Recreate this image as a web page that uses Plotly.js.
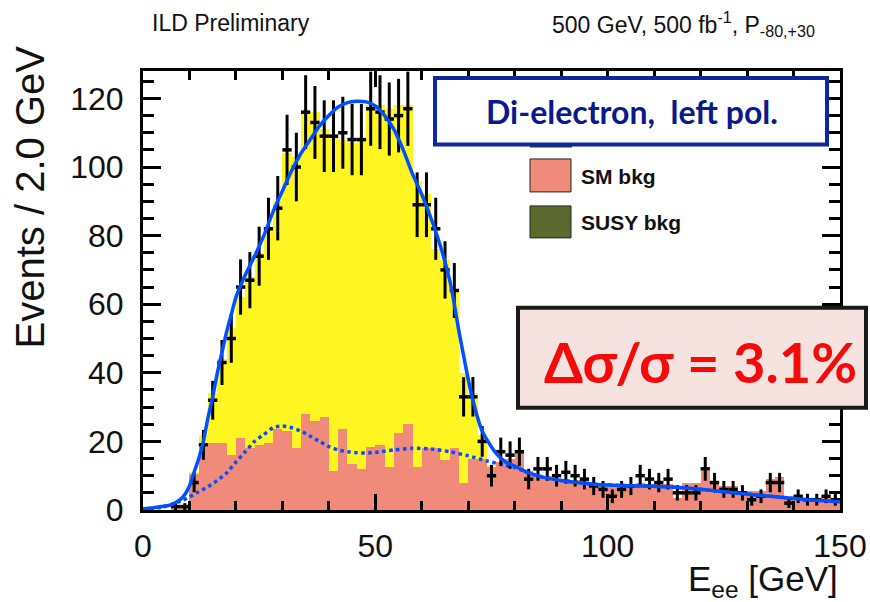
<!DOCTYPE html>
<html>
<head>
<meta charset="utf-8">
<script src="https://cdn.plot.ly/plotly-3.0.1.min.js"></script>
<style>html,body{margin:0;padding:0;background:#fff;}#chart{width:870px;height:602px;}</style>
</head>
<body>
<div id="chart"></div>
<script>
// ---- bin centres (2 GeV bins, 0-150 GeV)
const binCenters = [1,3,5,7,9,11,13,15,17,19,21,23,25,27,29,31,33,35,37,39,41,43,45,47,49,51,53,55,57,59,61,63,65,67,69,71,73,75,77,79,81,83,85,87,89,91,93,95,97,99,101,103,105,107,109,111,113,115,117,119,121,123,125,127,129,131,133,135,137,139,141,143,145,147,149];

// ---- SM background (salmon) per bin
const smBkg = [0,0,0,0.5,1,10.5,18.5,19.5,19.5,16,21,18,19,19.5,23.5,23,18,28,26,27,11.5,23.5,13.5,12,18.5,19,12.5,22.5,25,12.5,18,18,14.5,18,8,15,15,12.5,14,15,16.5,11.5,10,10,9,9,8.8,8.8,7.5,7,7,7,7,8,7.5,7.5,7.5,3.5,8,8,11.5,8.3,7,7,5.5,5.5,5.5,9,9.5,3.5,3.5,3.5,3.5,3.5,3.5];

// ---- signal MC (yellow, stacked on top of SM bkg)
const signalMC = [0,0,0,0,0.5,0.5,3.5,14.5,24.5,37,41,50,56,62.5,66.5,81,85,88,90,84,97.5,84.5,93.5,96,99.5,99,104.5,95.5,93,83.5,74,58,58.5,46,32,19,7,0.5,0,0,0,0,0,0,0,0,0,0,0,0,0,0,0,0,0,0,0,0,0,0,0,0,0,0,0,0,0,0,0,0,0,0,0,0,0];

// ---- pseudo-data counts
const dataCounts = [null,null,null,1,1,8,19,32,43,50,65,67,74,82,88,105,100,116,113,109,109,110,108,108,117,116,114,115,117,89,89,82,70,64,33,33,20,10,17,16,17,9,12,12,10,11,10,9,7,6,4,6,7,10,9,8,9,5,5,5,12,8,6,6,5,3,4,8,8,2,4,3,3,4,3];

// ---- total fit (solid blue)
const fitX = [0,2,4,6,8,9,10,11,12,13,14,15,16,17,18,19,20,22,24,26,28,30,32,34,36,38,40,42,44,46,48,50,52,54,56,58,60,62,64,66,67,68,69,70,71,72,73,74,76,78,80,83,86,90,97,104,110,114,121,128,135,143,150];
const fitY = [0.4,0.6,1,1.5,3,4.5,7,11,15,20,27,33,40,46,52,57,62,68.5,74,80,87,93,99,104,108,112,115,117.5,118.8,119.2,119,117.8,115,111,105,98,92,85,77,67,60,52,45,38,32,27,23,20.5,16.5,14,12.8,10.8,9.6,8.6,7.5,7.1,6.9,6.7,5.9,4.9,4,3,2.4];

// ---- background fit (dotted blue)
const bkgFitX = [0,4,8,10,12,14,16,18,20,22,24,26,28,30,32,34,36,38,40,42,44,46,48,50,54,58,62,66,70,74,78,80,83,86,90,97,104,110,114,121,128,135,143,150];
const bkgFitY = [0.3,0.8,2.5,3.8,5.3,6.8,8.6,10.8,14,17,20,22,24,24.5,24,23,21.5,20,18.5,17.5,17,16.7,16.6,16.8,17.5,18,17.8,17,15.8,14.3,13,12.4,10.8,9.6,8.6,7.5,7.1,6.9,6.7,5.9,4.9,4,3,2.4];

const xTicks = [0,50,100,150];
const yTicks = [0,20,40,60,80,100,120];

// ---- geometry helpers (pixel -> paper)
const L = 143, R = 840, T = 71, B = 510.3;
const px = x => (x - L) / (R - L);
const py = y => (B - y) / (B - T);

const dataErr = dataCounts.map(v => (v === null ? null : Math.sqrt(v)));

const traces = [
  { type: 'bar', x: binCenters, y: smBkg, width: 2,
    marker: { color: 'rgb(240,138,122)', line: { width: 0 } }, hoverinfo: 'skip' },
  { type: 'bar', x: binCenters, y: signalMC, width: 2,
    marker: { color: 'rgb(255,245,32)', line: { width: 0 } }, hoverinfo: 'skip' },
  { type: 'scatter', mode: 'lines', x: bkgFitX, y: bkgFitY,
    line: { color: '#0050FF', width: 3.5, dash: 'dot', shape: 'spline', smoothing: 0.6 } },
  { type: 'scatter', mode: 'markers', x: binCenters, y: dataCounts,
    marker: { color: 'black', size: 3 },
    error_y: { type: 'data', array: dataErr, visible: true, color: 'black', thickness: 3, width: 0 },
    error_x: { type: 'constant', value: 1, visible: true, color: 'black', thickness: 3.5, width: 0 } },
  { type: 'scatter', mode: 'lines', x: fitX, y: fitY,
    line: { color: '#0050FF', width: 3.5, shape: 'spline', smoothing: 0.6 } }
];

const axisFont = { family: 'Liberation Sans, Arial, sans-serif', size: 32, color: '#111' };

const layout = {
  width: 870, height: 602,
  margin: { l: L, r: 870 - R, t: T, b: 602 - B },
  paper_bgcolor: 'white', plot_bgcolor: 'white',
  showlegend: false, barmode: 'stack', bargap: 0,
  xaxis: {
    range: [0, 150], tickvals: xTicks, ticktext: xTicks.map(String),
    ticks: 'inside', ticklen: 16, tickwidth: 3, tickcolor: 'black',
    minor: { dtick: 10, tick0: 0, ticks: 'inside', ticklen: 9, tickwidth: 3, tickcolor: 'black' },
    showline: true, linewidth: 3, linecolor: 'black', mirror: 'ticks',
    showgrid: false, zeroline: false, tickfont: axisFont, ticklabelstandoff: 6
  },
  yaxis: {
    range: [0, 128], tickvals: yTicks, ticktext: yTicks.map(String),
    ticks: 'inside', ticklen: 18, tickwidth: 3, tickcolor: 'black',
    minor: { dtick: 5, tick0: 0, ticks: 'inside', ticklen: 11, tickwidth: 3, tickcolor: 'black' },
    showline: true, linewidth: 3, linecolor: 'black', mirror: 'ticks',
    showgrid: false, zeroline: false, tickfont: axisFont, ticklabelstandoff: 10
  },
  shapes: [
    // legend boxes
    { type: 'rect', xref: 'paper', yref: 'paper', x0: px(530), x1: px(571), y0: py(192), y1: py(159),
      fillcolor: 'rgb(240,138,122)', line: { color: '#222', width: 1 }, layer: 'above' },
    { type: 'rect', xref: 'paper', yref: 'paper', x0: px(530), x1: px(571), y0: py(238), y1: py(206),
      fillcolor: 'rgb(92,106,48)', line: { color: '#222', width: 1 }, layer: 'above' },
    { type: 'line', xref: 'paper', yref: 'paper', x0: px(530), x1: px(572), y0: py(146.5), y1: py(146.5),
      line: { color: '#333', width: 2 }, layer: 'above' },
    // blue label box
    { type: 'rect', xref: 'paper', yref: 'paper', x0: px(435), x1: px(827), y0: py(144.5), y1: py(78),
      fillcolor: 'white', line: { color: 'rgb(12,40,160)', width: 4 }, layer: 'above' },
    // red result box
    { type: 'rect', xref: 'paper', yref: 'paper', x0: px(518), x1: px(866), y0: py(408), y1: py(308),
      fillcolor: 'rgb(246,226,223)', line: { color: '#1a1a1a', width: 4 }, layer: 'above' }
  ],
  annotations: [
    { text: 'ILD Preliminary', xref: 'paper', yref: 'paper', x: px(150), y: py(23),
      xanchor: 'left', yanchor: 'middle', showarrow: false,
      font: { family: 'Liberation Sans, Arial, sans-serif', size: 23, color: '#111' } },
    { text: '500 GeV, 500 fb<sup>-1</sup>, P<sub>-80,+30</sub>', xref: 'paper', yref: 'paper', x: px(817), y: py(24),
      xanchor: 'right', yanchor: 'middle', showarrow: false,
      font: { family: 'Liberation Sans, Arial, sans-serif', size: 23, color: '#111' } },
    { text: 'Events / 2.0 GeV', xref: 'paper', yref: 'paper', x: px(30), y: py(197.5),
      xanchor: 'center', yanchor: 'middle', textangle: -90, showarrow: false,
      font: { family: 'Liberation Sans, Arial, sans-serif', size: 40, color: '#111' } },
    { text: 'E<sub>ee</sub> [GeV]', xref: 'paper', yref: 'paper', x: px(840), y: py(581),
      xanchor: 'right', yanchor: 'middle', showarrow: false,
      font: { family: 'Liberation Sans, Arial, sans-serif', size: 35, color: '#111' } },
    { text: '<b>SM bkg</b>', xref: 'paper', yref: 'paper', x: px(579), y: py(177),
      xanchor: 'left', yanchor: 'middle', showarrow: false,
      font: { family: 'Liberation Sans, Arial, sans-serif', size: 21, color: '#111' } },
    { text: '<b>SUSY bkg</b>', xref: 'paper', yref: 'paper', x: px(579), y: py(223),
      xanchor: 'left', yanchor: 'middle', showarrow: false,
      font: { family: 'Liberation Sans, Arial, sans-serif', size: 21, color: '#111' } },
    { text: '<b>Di-electron,  left pol.</b>', xref: 'paper', yref: 'paper', x: px(632), y: py(112),
      xanchor: 'center', yanchor: 'middle', showarrow: false,
      font: { family: 'Lato, Open Sans, sans-serif', size: 32, color: 'rgb(10,25,140)' } },
    { text: '<b>Δσ/σ = 3.1%</b>', xref: 'paper', yref: 'paper', x: px(700), y: py(362),
      xanchor: 'center', yanchor: 'middle', showarrow: false,
      font: { family: 'Lato, Open Sans, sans-serif', size: 56, color: 'rgb(245,10,10)' } }
  ]
};

Plotly.newPlot('chart', traces, layout, { staticPlot: true, displayModeBar: false });
</script>
</body>
</html>
